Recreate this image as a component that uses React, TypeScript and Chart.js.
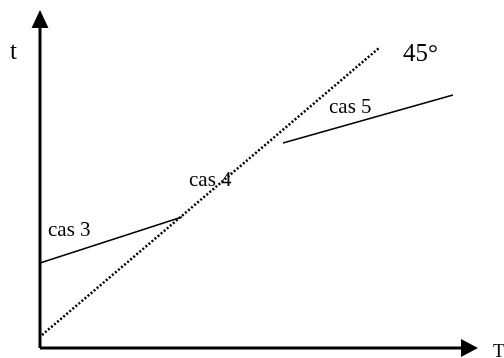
import React, { useEffect, useRef } from "react";
import { Chart, registerables } from "chart.js";

Chart.register(...registerables);

// Data coordinates: origin at the axes' crossing point
const diagonal45 = [
  { x: 2, y: 13 },
  { x: 339, y: 300 },
];
const cas3Line = [
  { x: 0, y: 85 },
  { x: 142, y: 131 },
];
const cas5Line = [
  { x: 243, y: 205 },
  { x: 413, y: 253 },
];
const xAxisLine = [
  { x: 0, y: 0 },
  { x: 424, y: 0 },
];
const yAxisLine = [
  { x: 0, y: 0 },
  { x: 0, y: 322 },
];
const labelTexts = ["cas 3", "cas 4", "cas 5", "45°", "t", "T"];
const labelX = [8, 149, 289, 363, -30, 453];
const labelY = [112, 162, 235, 287, 289, -9];
const labelSizes = [21, 21, 21, 25, 25, 19];

const arrowPlugin = {
  id: "arrowsAndLabels",
  afterDatasetsDraw(chart: any) {
    const { ctx, scales } = chart;
    const xs = scales.x;
    const ys = scales.y;
    const px = (v: number) => xs.getPixelForValue(v);
    const py = (v: number) => ys.getPixelForValue(v);
    ctx.save();
    ctx.fillStyle = "#000";
    // y arrow head
    ctx.beginPath();
    ctx.moveTo(px(0), py(338));
    ctx.lineTo(px(-8.5), py(320));
    ctx.lineTo(px(8.5), py(320));
    ctx.closePath();
    ctx.fill();
    // x arrow head
    ctx.beginPath();
    ctx.moveTo(px(438), py(0));
    ctx.lineTo(px(421), py(9));
    ctx.lineTo(px(421), py(-9));
    ctx.closePath();
    ctx.fill();
    // labels
    ctx.textBaseline = "alphabetic";
    ctx.textAlign = "left";
    labelTexts.forEach((t, i) => {
      ctx.font = `${labelSizes[i]}px "Liberation Serif", "Times New Roman", serif`;
      ctx.fillText(t, px(labelX[i]), py(labelY[i]));
    });
    ctx.restore();
  },
};

export default function App() {
  const ref = useRef<HTMLCanvasElement | null>(null);
  useEffect(() => {
    if (!ref.current) return;
    const solid = (data: any[], w: number) => ({
      data,
      borderColor: "#000",
      backgroundColor: "#000",
      borderWidth: w,
      pointRadius: 0,
      showLine: true,
      fill: false,
      tension: 0,
    });
    const chart = new Chart(ref.current, {
      type: "scatter",
      data: {
        datasets: [
          solid(xAxisLine, 3),
          solid(yAxisLine, 3),
          solid(cas3Line, 1.5),
          solid(cas5Line, 1.5),
          { ...solid(diagonal45, 2.5), borderDash: [2, 2] },
        ],
      },
      options: {
        animation: false,
        responsive: false,
        maintainAspectRatio: false,
        layout: { padding: 0 },
        plugins: { legend: { display: false }, tooltip: { enabled: false } },
        scales: {
          x: { type: "linear", display: false, min: -40, max: 464 },
          y: { type: "linear", display: false, min: -10, max: 348 },
        },
      },
      plugins: [arrowPlugin],
    });
    return () => chart.destroy();
  }, []);
  return (
    <div style={{ position: "fixed", left: 0, top: 0, width: 504, height: 358, background: "#fff" }}>
      <canvas ref={ref} width={504} height={358} style={{ width: 504, height: 358 }} />
    </div>
  );
}
